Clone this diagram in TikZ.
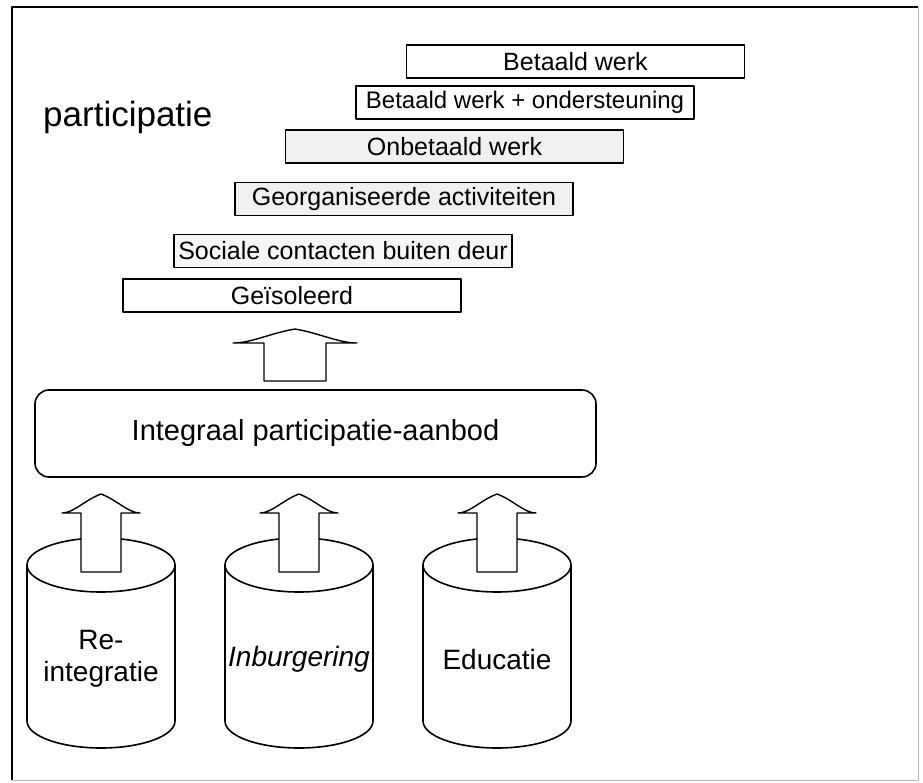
\documentclass[tikz,border=0pt]{standalone}
\usepackage{fontspec}
\setmainfont{Liberation Sans}
\usetikzlibrary{positioning}

\begin{document}
\begin{tikzpicture}[
  x=1pt, y=-1pt,
  line join=round,
  stap/.style={draw, line width=1.6pt, minimum width=338pt, minimum height=33pt, inner sep=0pt, font=\fontsize{25}{29}\selectfont},
  aanbod/.style={draw, line width=1.6pt, rounded corners=14pt, minimum width=561pt, minimum height=87pt, font=\fontsize{29}{34}\selectfont},
  vat/.style={draw, line width=1.6pt, fill=white},
  vatlabel/.style={align=center, inner sep=0pt, font=\fontsize{28}{32}\selectfont},
  pijl/.style={draw, line width=1.4pt, fill=white},
  % block arrow: #1 half head width, #2 half shaft width, #3 head height, #4 total length
  pics/blokpijl/.style n args={4}{code={
    \path[pijl] (0,0) .. controls (-0.4*#1,0.3*#3) and (-0.7*#1,#3) .. (-#1,#3) -- (-#2,#3) -- (-#2,#4)
      -- (#2,#4) -- (#2,#3) -- (#1,#3) .. controls (0.7*#1,#3) and (0.4*#1,0.3*#3) .. (0,0) -- cycle;
  }},
]
\useasboundingbox (0,0) rectangle (923,783);

% ===== frame =====
\draw[line width=1.5pt] (12,780) -- (12,7) -- (918,7);
\draw[gray!55, line width=1pt] (12,780) -- (918,780) -- (918,7);

% ===== participation ladder =====
\node[anchor=base west, inner sep=0pt, font=\fontsize{35}{40}\selectfont] (titel) at (43,127) {participatie};

\node[stap] (betaald) at (575.5,61.5) {Betaald werk};
\node[stap, font=\fontsize{24}{28}\selectfont] (ondst) at (525,102.5) {Betaald werk + ondersteuning};
\node[stap, fill=gray!12] (onbet) at (454.5,146.5) {Onbetaald werk};
\node[stap, fill=gray!12] (georg) at (404,199) {Georganiseerde activiteiten};
\node[stap, fill=gray!7] (sociaal) at (343,251) {Sociale contacten buiten deur};
\node[stap] (geisol) at (292,295.5) {Geïsoleerd};

\pic at (295,329) {blokpijl={62}{31}{14}{52}};

% ===== integral offer =====
\node[aanbod] (integraal) at (315.5,433.5) {Integraal participatie-aanbod};

% ===== the three sources =====
\foreach \cx/\naam/\tekst in {101/reint/{Re-\\integratie}, 299/inburg/{\textit{Inburgering}}, 497/educ/{Educatie}}{
  \path[vat] (\cx-74,565) -- (\cx-74,721) arc[start angle=180, end angle=360, x radius=74pt, y radius=27pt] -- (\cx+74,565);
  \path[vat] (\cx,565) ellipse[x radius=74pt, y radius=27pt];
  \pic at (\cx,494) {blokpijl={39}{20}{19}{78}};
  \node[vatlabel] (\naam) at (\cx,659) {\tekst};
}

\end{tikzpicture}
\end{document}
